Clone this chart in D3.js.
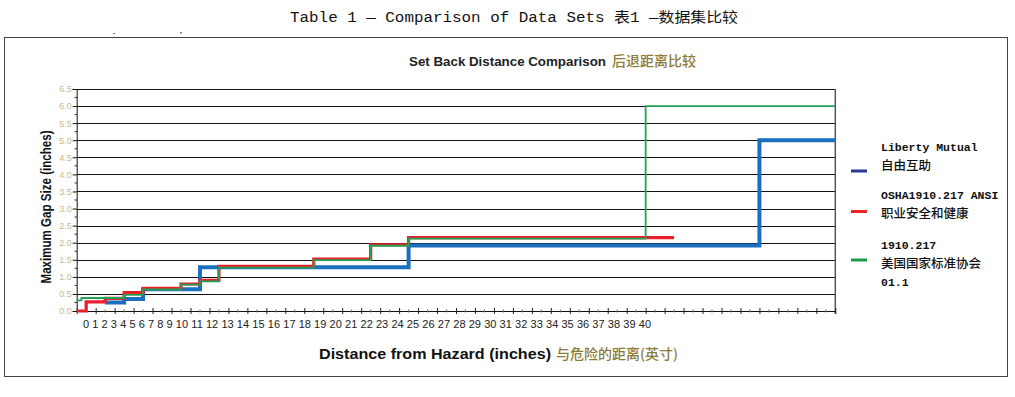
<!DOCTYPE html>
<html>
<head>
<meta charset="utf-8">
<script src="https://cdn.jsdelivr.net/npm/d3@7/dist/d3.min.js"></script>
<style>
  html, body { margin: 0; padding: 0; background: #ffffff; }
  svg { display: block; }
</style>
</head>
<body>
<div id="chart"></div>
<script>
// Step series: [distance in tick units, max gap in inches]; each value holds until the next point
const libertyMutual = [[3, 0.25], [5, 0.35], [7, 0.64], [13, 1.28], [35, 1.92], [72, 5.0], [80, 5.0]];
const oshaAnsi = [[0, 0], [1, 0.27], [3, 0.37], [5, 0.54], [7, 0.66], [11, 0.79], [13, 0.90], [15, 1.31], [25, 1.52], [31, 1.94], [35, 2.15], [63, 2.15]];
const ansi1910 = [[0, 0.31], [0.5, 0.38], [5, 0.47], [7, 0.63], [11, 0.77], [13, 0.87], [15, 1.27], [25, 1.49], [31, 1.91], [35, 2.12], [60, 6.0], [80, 6.0]];

const yTicks = [0, 0.5, 1, 1.5, 2, 2.5, 3, 3.5, 4, 4.5, 5, 5.5, 6, 6.5];
const xLabels = d3.range(0, 41).map(String);

const legendItems = [
    { color: '#27399a', lines: ['Liberty Mutual', '自由互助'] },
    { color: '#e8232b', lines: ['OSHA1910.217 ANSI', '职业安全和健康'] },
    { color: '#1a9c4c', lines: ['1910.217', '美国国家标准协会', '01.1'] }
];

const width = 1015, height = 397;
const svg = d3.select('#chart').append('svg')
    .attr('width', width)
    .attr('height', height);

// page title + outer frame
svg.append('text')
    .attr('x', 290).attr('y', 22)
    .attr('font-family', '"Liberation Mono", "Noto Sans CJK SC", monospace')
    .attr('font-size', 14)
    .attr('fill', '#111')
    .attr('textLength', 448)
    .attr('lengthAdjust', 'spacingAndGlyphs')
    .text('Table 1 — Comparison of Data Sets 表1 —数据集比较');

svg.append('rect').attr('x', 113).attr('y', 33).attr('width', 2).attr('height', 1).attr('fill', '#777');
svg.append('rect').attr('x', 180).attr('y', 32).attr('width', 2).attr('height', 1.5).attr('fill', '#777');

svg.append('rect')
    .attr('x', 4.5).attr('y', 37.5)
    .attr('width', 1003).attr('height', 339)
    .attr('fill', 'none')
    .attr('stroke', '#444')
    .attr('stroke-width', 1);

// chart title
const title = svg.append('text')
    .attr('x', 409).attr('y', 66)
    .attr('font-family', '"Liberation Sans", Arial, sans-serif');
title.append('tspan')
    .attr('font-weight', 'bold').attr('font-size', 13).attr('fill', '#222')
    .attr('textLength', 197).attr('lengthAdjust', 'spacingAndGlyphs')
    .text('Set Back Distance Comparison');
title.append('tspan')
    .attr('dx', 6)
    .attr('font-family', '"Noto Sans CJK SC", sans-serif')
    .attr('font-size', 14).attr('font-weight', 500).attr('fill', '#8c7b3a')
    .text('后退距离比较');

// scales
const x = d3.scaleLinear().domain([0, 80]).range([76.7, 835.3]);
const y = d3.scaleLinear().domain([0, 6.5]).range([311, 89]);

const plot = svg.append('g');

// gridlines
plot.selectAll('line.grid')
    .data(yTicks.filter(d => d > 0))
    .join('line')
    .attr('class', 'grid')
    .attr('x1', x(0)).attr('x2', x(80))
    .attr('y1', d => Math.round(y(d)) + 0.5).attr('y2', d => Math.round(y(d)) + 0.5)
    .attr('stroke', '#111')
    .attr('stroke-width', 1);

// right border
plot.append('line')
    .attr('x1', x(80)).attr('x2', x(80))
    .attr('y1', y(6.5)).attr('y2', y(0) + 3)
    .attr('stroke', '#555').attr('stroke-width', 1.5);

// y axis
const yAxis = d3.axisLeft(y).tickValues(yTicks).tickFormat(d3.format('.1f')).tickSize(4).tickPadding(1);
const gy = plot.append('g')
    .attr('transform', 'translate(' + x(0) + ',0)')
    .call(yAxis);
gy.select('.domain').attr('stroke', '#111');
gy.selectAll('.tick line').attr('stroke', '#111');
gy.selectAll('.tick text')
    .attr('font-family', '"Liberation Sans", Arial, sans-serif')
    .attr('font-size', 9)
    .attr('fill', '#c8b98c');
// minor y ticks
plot.selectAll('line.ymin')
    .data(d3.range(0.25, 6.5, 0.5))
    .join('line')
    .attr('class', 'ymin')
    .attr('x1', x(0) - 2).attr('x2', x(0))
    .attr('y1', d => y(d)).attr('y2', d => y(d))
    .attr('stroke', '#111');

// x axis (ticks only, labels drawn as a run of text like the original)
const xAxis = d3.axisBottom(x).tickValues(d3.range(0, 81, 2)).tickFormat('').tickSizeInner(3).tickSizeOuter(0);
const gx = plot.append('g')
    .attr('transform', 'translate(0,' + y(0) + ')')
    .call(xAxis);
gx.select('.domain').attr('stroke', '#111').attr('stroke-width', 1.2);
gx.selectAll('.tick line').attr('stroke', '#222').attr('y1', -3);
plot.selectAll('line.xmin')
    .data(d3.range(1, 80, 2))
    .join('line')
    .attr('class', 'xmin')
    .attr('x1', d => x(d)).attr('x2', d => x(d))
    .attr('y1', y(0) - 1.5).attr('y2', y(0) + 1.5)
    .attr('stroke', '#666');

svg.append('text')
    .attr('x', 83).attr('y', 328)
    .attr('font-family', '"Liberation Sans", Arial, sans-serif')
    .attr('font-size', 11)
    .attr('fill', '#222')
    .attr('textLength', 568)
    .attr('lengthAdjust', 'spacing')
    .text(xLabels.join(' '));

// axis titles
svg.append('text')
    .attr('transform', 'translate(51,207) rotate(-90)')
    .attr('text-anchor', 'middle')
    .attr('font-family', '"Liberation Sans", Arial, sans-serif')
    .attr('font-weight', 'bold')
    .attr('font-size', 14)
    .attr('fill', '#111')
    .attr('textLength', 153)
    .attr('lengthAdjust', 'spacingAndGlyphs')
    .text('Maximum Gap Size (inches)');

const xTitle = svg.append('text')
    .attr('x', 319).attr('y', 359)
    .attr('font-family', '"Liberation Sans", Arial, sans-serif');
xTitle.append('tspan')
    .attr('font-weight', 'bold').attr('font-size', 15).attr('fill', '#111')
    .attr('textLength', 232).attr('lengthAdjust', 'spacingAndGlyphs')
    .text('Distance from Hazard (inches)');
xTitle.append('tspan')
    .attr('dx', 5)
    .attr('font-family', '"Noto Sans CJK SC", sans-serif')
    .attr('font-size', 14).attr('font-weight', 500).attr('fill', '#8c7b3a')
    .text('与危险的距离(英寸)');

// step lines
const line = d3.line()
    .x(d => x(d[0]))
    .y(d => y(d[1]))
    .curve(d3.curveStepAfter);

const series = [
    { data: libertyMutual, color: '#1a6fbe', width: 4 },
    { data: oshaAnsi, color: '#e8202a', width: 3.2 },
    { data: ansi1910, color: '#22a155', width: 1.8 }
];

plot.selectAll('path.series')
    .data(series)
    .join('path')
    .attr('class', 'series')
    .attr('d', d => line(d.data))
    .attr('fill', 'none')
    .attr('stroke', d => d.color)
    .attr('stroke-width', d => d.width);

// legend
const legendTop = [151, 199, 249];
const markerOffset = [20, 12.5, 11];
const lineOffset = [0, 18.5, 37];
const legend = svg.append('g');
legendItems.forEach(function(item, i) {
    const g = legend.append('g').attr('transform', 'translate(0,' + legendTop[i] + ')');
    g.append('line')
        .attr('x1', 851).attr('x2', 867)
        .attr('y1', markerOffset[i]).attr('y2', markerOffset[i])
        .attr('stroke', item.color)
        .attr('stroke-width', 3);
    item.lines.forEach(function(txt, j) {
        const cjk = /[\u4e00-\u9fff]/.test(txt);
        g.append('text')
            .attr('x', 881)
            .attr('y', lineOffset[j])
            .attr('font-family', cjk ? '"Noto Sans CJK SC", sans-serif' : '"Liberation Mono", monospace')
            .attr('font-weight', cjk ? 500 : 'bold')
            .attr('font-size', cjk ? 12.5 : 11.5)
            .attr('fill', '#111')
            .text(txt);
    });
});
</script>
</body>
</html>
